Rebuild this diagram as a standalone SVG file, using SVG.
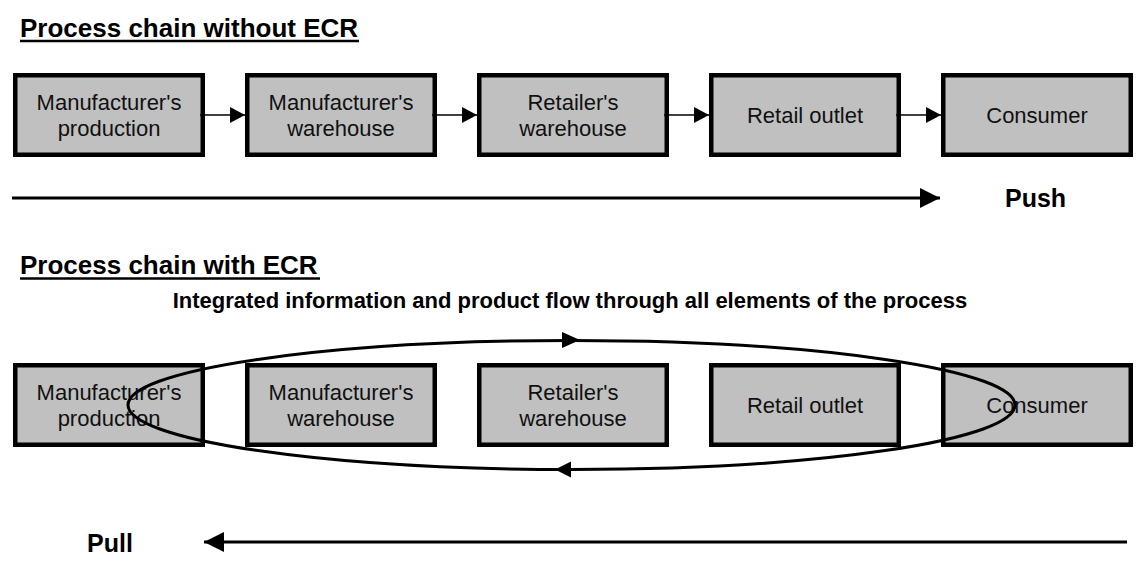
<svg xmlns="http://www.w3.org/2000/svg" width="1140" height="565" viewBox="0 0 1140 565">
<style>
.box{fill:#c0c0c0;stroke:#000;stroke-width:4.5}
.lbl{font-family:"Liberation Sans",Arial,sans-serif;font-size:22px;fill:#111;text-anchor:middle}
.ttl{font-family:"Liberation Sans",Arial,sans-serif;font-size:26px;font-weight:bold;fill:#000}
.big{font-family:"Liberation Sans",Arial,sans-serif;font-size:25px;font-weight:bold;fill:#000}
.sub{font-family:"Liberation Sans",Arial,sans-serif;font-size:22px;font-weight:bold;fill:#000;text-anchor:middle}
.thin{stroke:#000;stroke-width:1.5;fill:none}
.thick{stroke:#000;stroke-width:3;fill:none}
.ul{stroke:#000;stroke-width:2.5}
</style>
<defs>
<marker id="sa" markerUnits="userSpaceOnUse" markerWidth="15" markerHeight="16" refX="15" refY="8" orient="auto">
<path d="M0,0 L15,8 L0,16 z" fill="#000"/>
</marker>
<marker id="ba" markerUnits="userSpaceOnUse" markerWidth="20" markerHeight="20" refX="20" refY="10" orient="auto">
<path d="M0,0 L20,10 L0,20 z" fill="#000"/>
</marker>
</defs>
<rect width="1140" height="565" fill="#fff"/>
<g id="titles">
<text class="ttl" x="20" y="37">Process chain without ECR</text>
<line class="ul" x1="20" y1="41" x2="359" y2="41"/>
<text class="ttl" x="20" y="274">Process chain with ECR</text>
<line class="ul" x1="20" y1="278.5" x2="320" y2="278.5"/>
<text class="sub" x="570" y="308">Integrated information and product flow through all elements of the process</text>
<text class="big" x="1005" y="207">Push</text>
<text class="big" x="87" y="552">Pull</text>
</g>
<g id="top-mp">
<rect class="box" x="15.25" y="75.25" width="187.5" height="79.5"/>
<text class="lbl" x="109" y="110">Manufacturer's</text>
<text class="lbl" x="109" y="136">production</text>
</g>
<g id="top-mw">
<rect class="box" x="247.25" y="75.25" width="187.5" height="79.5"/>
<text class="lbl" x="341" y="110">Manufacturer's</text>
<text class="lbl" x="341" y="136">warehouse</text>
</g>
<g id="top-rw">
<rect class="box" x="479.25" y="75.25" width="187.5" height="79.5"/>
<text class="lbl" x="573" y="110">Retailer's</text>
<text class="lbl" x="573" y="136">warehouse</text>
</g>
<g id="top-ro">
<rect class="box" x="711.25" y="75.25" width="187.5" height="79.5"/>
<text class="lbl" x="805" y="123">Retail outlet</text>
</g>
<g id="top-co">
<rect class="box" x="943.25" y="75.25" width="187.5" height="79.5"/>
<text class="lbl" x="1037" y="123">Consumer</text>
</g>
<g id="bot-mp">
<rect class="box" x="15.25" y="365.25" width="187.5" height="79.5"/>
<text class="lbl" x="109" y="400">Manufacturer's</text>
<text class="lbl" x="109" y="426">production</text>
</g>
<g id="bot-mw">
<rect class="box" x="247.25" y="365.25" width="187.5" height="79.5"/>
<text class="lbl" x="341" y="400">Manufacturer's</text>
<text class="lbl" x="341" y="426">warehouse</text>
</g>
<g id="bot-rw">
<rect class="box" x="479.25" y="365.25" width="187.5" height="79.5"/>
<text class="lbl" x="573" y="400">Retailer's</text>
<text class="lbl" x="573" y="426">warehouse</text>
</g>
<g id="bot-ro">
<rect class="box" x="711.25" y="365.25" width="187.5" height="79.5"/>
<text class="lbl" x="805" y="413">Retail outlet</text>
</g>
<g id="bot-co">
<rect class="box" x="943.25" y="365.25" width="187.5" height="79.5"/>
<text class="lbl" x="1037" y="413">Consumer</text>
</g>
<g id="connectors">
<line class="thin" x1="200" y1="115" x2="245" y2="115" marker-end="url(#sa)"/>
<line class="thin" x1="432" y1="115" x2="477" y2="115" marker-end="url(#sa)"/>
<line class="thin" x1="664" y1="115" x2="709" y2="115" marker-end="url(#sa)"/>
<line class="thin" x1="896" y1="115" x2="941" y2="115" marker-end="url(#sa)"/>
<line class="thick" x1="12" y1="198" x2="940" y2="198" marker-end="url(#ba)"/>
<line class="thick" x1="1127" y1="542" x2="204" y2="542" marker-end="url(#ba)"/>
<ellipse class="thick" cx="571.5" cy="405" rx="443.5" ry="64.5"/>
<path d="M562,332 L580,340 L562,348 z" fill="#000"/>
<path d="M555,469.5 L571,461.5 L571,477.5 z" fill="#000"/>
</g>
</svg>
